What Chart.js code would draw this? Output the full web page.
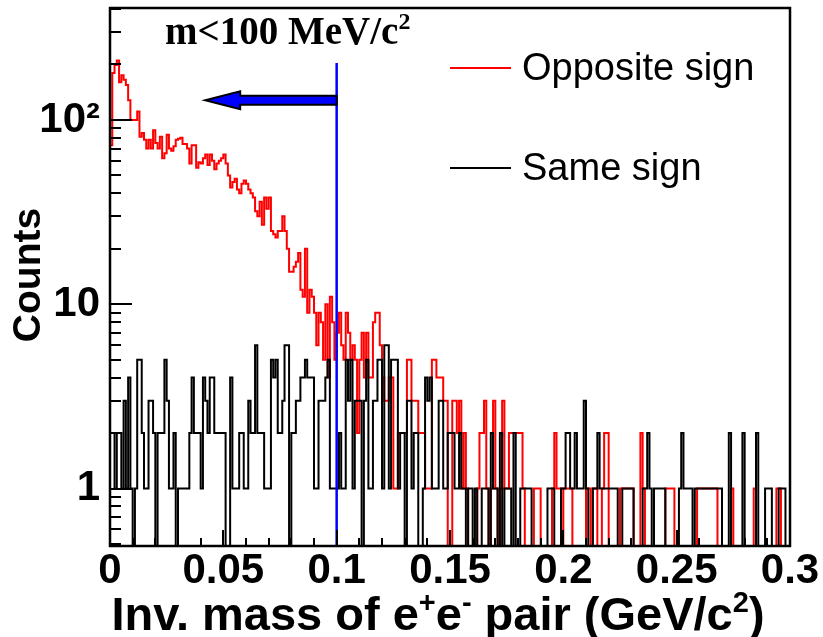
<!DOCTYPE html>
<html>
<head>
<meta charset="utf-8">
<script src="https://cdn.jsdelivr.net/npm/chart.js@4.4.1/dist/chart.umd.min.js"></script>
<style>
    html, body { margin: 0; padding: 0; background: #fff; }
</style>
</head>
<body>
<canvas id="myHistChart" width="823" height="637"></canvas>
<script>
// bins de 1 MeV entre 0 y 0.3 GeV/c2
const binWidth = 0.001;
const massMin = 0;
const massMax = 0.3;
const xTicks = [0, 0.05, 0.1, 0.15, 0.2, 0.25, 0.3];
const yTicks = [1, 10, 100];
const yTickLabels = ['1', '10', '10²'];
const cutMass = 0.1;
const cutTop = 204;
const arrowTip = 0.042;
const arrowLevel = 128;
const legendLabels = ['Opposite sign', 'Same sign'];
const legendColors = ['#ff0000', '#000000'];

const oppositeSign = [
    73,180,199,210,160,175,165,155,128,100,
    100,100,111,81,85,78,70,78,70,88,
    75,70,81,62,66,83,70,68,72,78,
    79,80,74,74,70,58,73,73,55,59,
    58,62,65,57,65,60,54,58,60,62,
    65,58,50,43,46,48,42,40,45,47,
    45,42,40,38,32,30,36,27,38,33,
    38,25,24,23,25,25,30,25,20,15,
    15,16,17,19,12,11,20,9,12,11,
    9,6,9,8,5,10,4,11,8,5,
    7,9,6,5,9,7,5,6,5,2,
    5,7,4,7,4,4,8,9,9,6,
    4,3,3,4,4,1,1,2,2,2,
    2,5,5,3,3,3,2,2,2,1,
    1,1,5,5,4,4,4,3,3,0,
    0,3,3,2,3,1,2,1,0,0,
    0,0,1,2,2,3,1,0,1,3,
    1,0,1,3,1,1,2,2,2,2,
    2,2,1,0,0,0,0,1,1,1,
    0,0,0,0,0,1,2,1,1,0,
    1,1,1,1,0,0,0,0,0,0,
    1,1,0,1,1,0,0,1,2,2,
    0,0,0,0,0,1,1,1,1,1,
    1,0,0,0,2,1,0,0,0,0,
    0,0,0,0,0,1,1,1,1,0,
    0,0,0,0,0,0,0,0,0,1,
    1,1,1,1,1,1,1,1,0,0,
    0,0,0,0,1,0,0,0,0,0,
    0,0,0,0,1,0,0,0,0,0,
    0,0,0,0,1,1,0,0,0,0
];

const sameSign = [
    2,2,1,2,2,1,3,1,4,1,
    0,1,5,5,2,1,1,3,3,2,
    0,2,2,2,5,3,1,1,2,0,
    1,1,1,1,1,2,4,2,2,2,
    1,4,3,2,4,4,2,2,2,2,
    2,0,0,4,1,1,1,2,2,1,
    1,3,2,2,6,2,2,2,1,1,
    1,5,4,5,2,2,3,6,6,0,
    2,2,3,3,4,4,5,4,4,4,
    1,1,3,3,3,4,5,1,1,1,
    1,2,1,1,5,3,5,1,3,3,
    3,0,3,5,1,1,3,3,5,5,
    1,6,6,1,5,5,5,1,2,2,
    0,3,3,1,2,2,0,0,1,4,
    3,4,1,1,1,3,3,1,1,2,
    2,2,1,1,2,1,1,0,1,1,
    0,1,0,0,1,1,1,0,2,1,
    1,0,2,0,1,1,1,0,2,0,
    0,1,1,1,1,1,0,0,0,0,
    0,0,0,1,1,1,0,0,0,1,
    1,2,2,1,1,2,1,1,1,3,
    1,0,0,1,1,2,1,1,1,1,
    1,1,1,1,0,0,1,1,1,1,
    1,0,0,0,0,1,1,2,1,0,
    1,1,1,1,1,0,0,0,0,0,
    0,1,2,1,1,1,1,0,1,1,
    1,1,1,1,1,1,1,1,1,1,
    0,0,0,2,0,0,0,0,0,2,
    0,0,0,0,0,2,0,0,0,1,
    1,1,0,0,0,1,1,1,0,0
];

const fontSans = '"Liberation Sans", Arial, sans-serif';
const fontSerif = '"Liberation Serif", "Times New Roman", serif';
const ZERO = 0.1; // debajo del minimo del eje, se recorta

function toSteps(counts) {
    // un punto en el borde izquierdo de cada bin (stepped 'before')
    let pts = [{x: massMin, y: ZERO}];
    counts.forEach((c, i) => {
        pts.push({x: massMin + i * binWidth, y: c > 0 ? c : ZERO});
    });
    const last = counts[counts.length - 1];
    pts.push({x: massMin + counts.length * binWidth, y: last > 0 ? last : ZERO});
    pts.push({x: massMin + counts.length * binWidth, y: ZERO});
    return pts;
}

function drawSupText(ctx, parts, x, y, size, weight, family) {
    // parts: [texto, esSuperindice]
    let cx = x;
    parts.forEach(([t, sup]) => {
        ctx.font = weight + ' ' + (sup ? Math.round(size * 0.62) : size) + 'px ' + family;
        ctx.fillText(t, cx, sup ? y - size * 0.38 : y);
        cx += ctx.measureText(t).width;
    });
    return cx - x;
}

function measureSupText(ctx, parts, size, weight, family) {
    let w = 0;
    parts.forEach(([t, sup]) => {
        ctx.font = weight + ' ' + (sup ? Math.round(size * 0.62) : size) + 'px ' + family;
        w += ctx.measureText(t).width;
    });
    return w;
}

const decoraciones = {
    id: 'decoraciones',
    afterDatasetsDraw(chart) {
        const {ctx, chartArea: a, scales: {x, y}} = chart;
        ctx.save();

        // ticks hacia dentro, eje y
        ctx.strokeStyle = '#000';
        ctx.lineWidth = 2;
        ctx.beginPath();
        for (let d = 0.1; d <= 100; d *= 10) {
            for (let k = 1; k < 10; k++) {
                const v = Math.round(d * k * 10) / 10;
                if (v < y.min || v > y.max) continue;
                const py = Math.round(y.getPixelForValue(v));
                const len = k === 1 ? 22 : 11;
                ctx.moveTo(a.left, py);
                ctx.lineTo(a.left + len, py);
            }
        }
        // ticks eje x
        for (let i = 0; i <= 30; i++) {
            const px = Math.round(x.getPixelForValue(i * 0.01));
            const len = i % 5 === 0 ? 16 : 8;
            ctx.moveTo(px, a.bottom);
            ctx.lineTo(px, a.bottom - len);
        }
        ctx.stroke();

        // marco
        ctx.lineWidth = 2.5;
        ctx.strokeRect(a.left, a.top, a.right - a.left, a.bottom - a.top);

        // flecha azul
        const x0 = x.getPixelForValue(cutMass);
        const x1 = x.getPixelForValue(arrowTip);
        const cy = y.getPixelForValue(arrowLevel);
        const hx = x1 + 35;
        ctx.beginPath();
        ctx.moveTo(x0, cy - 4.5);
        ctx.lineTo(hx, cy - 4.5);
        ctx.lineTo(hx, cy - 9);
        ctx.lineTo(x1, cy);
        ctx.lineTo(hx, cy + 9);
        ctx.lineTo(hx, cy + 4.5);
        ctx.lineTo(x0, cy + 4.5);
        ctx.closePath();
        ctx.fillStyle = '#0000ff';
        ctx.fill();
        ctx.lineWidth = 2;
        ctx.strokeStyle = '#000';
        ctx.stroke();

        // texto del corte
        ctx.fillStyle = '#000';
        ctx.textAlign = 'left';
        ctx.textBaseline = 'alphabetic';
        drawSupText(ctx, [['m<100 MeV/c', false], ['2', true]], 165, 44, 39, 'bold', fontSerif);

        // leyenda
        ctx.font = '38px ' + fontSans;
        ctx.textBaseline = 'middle';
        legendLabels.forEach((lab, i) => {
            const ly = 68 + i * 100;
            ctx.strokeStyle = legendColors[i];
            ctx.lineWidth = 2;
            ctx.beginPath();
            ctx.moveTo(450, ly);
            ctx.lineTo(511, ly);
            ctx.stroke();
            ctx.fillText(lab, 522, ly + 2);
        });

        // titulos de ejes
        ctx.textBaseline = 'alphabetic';
        const tParts = [['Inv. mass of e', false], ['+', true], ['e', false], ['-', true], [' pair (GeV/c', false], ['2', true], [')', false]];
        const tw = measureSupText(ctx, tParts, 47, 'bold', fontSans);
        drawSupText(ctx, tParts, 438 - tw / 2, 630, 47, 'bold', fontSans);

        ctx.translate(29, 275);
        ctx.rotate(-Math.PI / 2);
        ctx.font = 'bold 39px ' + fontSans;
        ctx.textAlign = 'center';
        ctx.textBaseline = 'middle';
        ctx.fillText('Counts', 0, 0);

        ctx.restore();
    }
};

const ctx = document.getElementById('myHistChart').getContext('2d');
const myHistChart = new Chart(ctx, {
    type: 'line',
    data: {
        datasets: [{
            label: 'cut',
            data: [{x: cutMass, y: cutTop}, {x: cutMass, y: ZERO}],
            borderColor: '#0000ff',
            borderWidth: 2.5,
            pointRadius: 0
        }, {
            label: 'Same sign',
            data: toSteps(sameSign),
            borderColor: '#000000',
            borderWidth: 2,
            stepped: true,
            pointRadius: 0
        }, {
            label: 'Opposite sign',
            data: toSteps(oppositeSign),
            borderColor: '#ff0000',
            borderWidth: 2,
            stepped: true,
            pointRadius: 0
        }]
    },
    options: {
        responsive: false,
        animation: false,
        devicePixelRatio: 1,
        layout: { padding: { left: 0, right: 33, top: 8, bottom: 0 } },
        plugins: {
            legend: { display: false },
            tooltip: { enabled: false }
        },
        scales: {
            x: {
                type: 'linear',
                min: massMin,
                max: massMax,
                afterFit: (s) => { s.height = 91; s.paddingLeft = 0; s.paddingRight = 0; },
                afterBuildTicks: (s) => { s.ticks = xTicks.map(v => ({value: v})); },
                ticks: {
                    callback: (v) => String(+v.toFixed(2)),
                    font: { family: fontSans, size: 42, weight: 'bold' },
                    color: '#000',
                    padding: 0,
                    maxRotation: 0,
                    autoSkip: false
                },
                grid: { display: false, drawTicks: false },
                border: { display: false }
            },
            y: {
                type: 'logarithmic',
                min: 0.488,
                max: 405,
                afterFit: (s) => { s.width = 110; s.paddingTop = 0; s.paddingBottom = 0; },
                afterBuildTicks: (s) => { s.ticks = yTicks.map(v => ({value: v})); },
                ticks: {
                    callback: (v) => yTickLabels[yTicks.indexOf(v)] ?? '',
                    font: { family: fontSans, size: 42, weight: 'bold' },
                    color: '#000',
                    padding: 10,
                    autoSkip: false
                },
                grid: { display: false, drawTicks: false },
                border: { display: false }
            }
        }
    },
    plugins: [decoraciones]
});
</script>
</body>
</html>
